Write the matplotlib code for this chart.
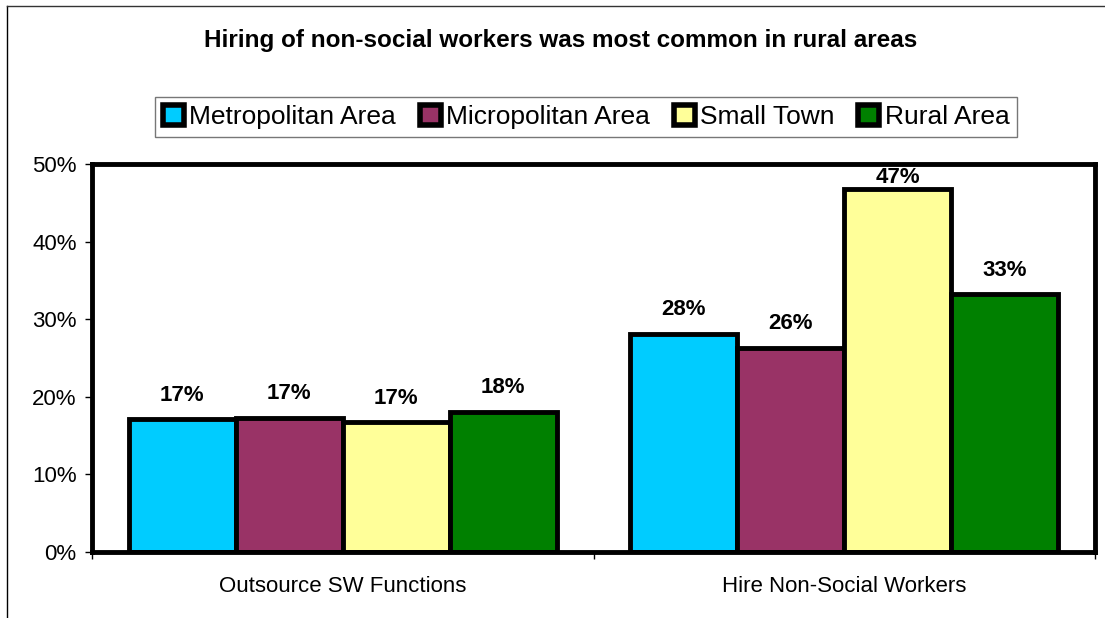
import matplotlib.pyplot as plt
import numpy as np
from matplotlib.patches import Rectangle
from matplotlib.lines import Line2D

plt.rcParams['font.family'] = ['Liberation Sans', 'DejaVu Sans']

categories = ["Outsource SW Functions", "Hire Non-Social Workers"]
series = ["Metropolitan Area", "Micropolitan Area", "Small Town", "Rural Area"]
values = {
    "Metropolitan Area": [17.1, 28.1],
    "Micropolitan Area": [17.3, 26.3],
    "Small Town": [16.7, 46.8],
    "Rural Area": [18.1, 33.2],
}
colors = ["#00ccff", "#993366", "#ffff99", "#008000"]
title = "Hiring of non-social workers was most common in rural areas"

fig = plt.figure(figsize=(11.05, 6.18), dpi=100)
ax = fig.add_axes([92/1105, 1 - 552/618, (1095 - 92)/1105, (552 - 164)/618])

x = np.arange(len(categories))
width = 0.2135
for i, (name, col) in enumerate(zip(series, colors)):
    pos = x + (i - 1.5) * width
    bars = ax.bar(pos, values[name], width, color=col, edgecolor="black",
                  linewidth=3.5, label=name, zorder=3)
    for b, v in zip(bars, values[name]):
        # keep labels inside the plot area
        ax.text(b.get_x() + b.get_width() / 2, min(v + 2.4, 47.5), f"{v:.0f}%",
                ha="center", va="baseline", fontsize=16, fontweight="bold")

ax.set_xlim(-0.5, 1.5)
ax.set_ylim(0, 50)
ax.set_yticks(np.arange(0, 51, 10))
ax.set_yticklabels([f"{t}%" for t in range(0, 51, 10)], fontsize=16)
ax.set_xticks([-0.5, 0.5, 1.5], minor=False)
ax.set_xticklabels([])
ax.set_xticks(x, minor=True)
ax.set_xticklabels(categories, minor=True, fontsize=16)
ax.tick_params(axis="x", which="minor", length=0, pad=17)
ax.tick_params(axis="x", which="major", length=5, width=1, direction="out")
ax.tick_params(axis="y", length=5, width=1, direction="out", pad=6)
for s in ax.spines.values():
    s.set_linewidth(3.5)
    s.set_zorder(4)

fig.text(561/1105, 1 - 40/618, title, ha="center", va="center",
         fontsize=17.5, fontweight="bold")

handles = [Rectangle((0, 0), 1, 1, facecolor=c, edgecolor="black", linewidth=4)
           for c in colors]
leg = fig.legend(handles, series, loc="center", bbox_to_anchor=(586/1105, 1 - 117/618),
                 ncol=4, fontsize=19, frameon=True, fancybox=False,
                 handlelength=0.8, handleheight=0.8, handletextpad=0.2,
                 columnspacing=0.9, borderpad=0.3)
leg.get_frame().set_edgecolor("#555555")
leg.get_frame().set_linewidth(1)

# partial outer frame
fig.add_artist(Line2D([7/1105, 7/1105], [0, 1 - 6/618], color="black", linewidth=1))
fig.add_artist(Line2D([7/1105, 1], [1 - 6/618, 1 - 6/618], color="#333333", linewidth=1))

fig.savefig("out.png", dpi=100)
